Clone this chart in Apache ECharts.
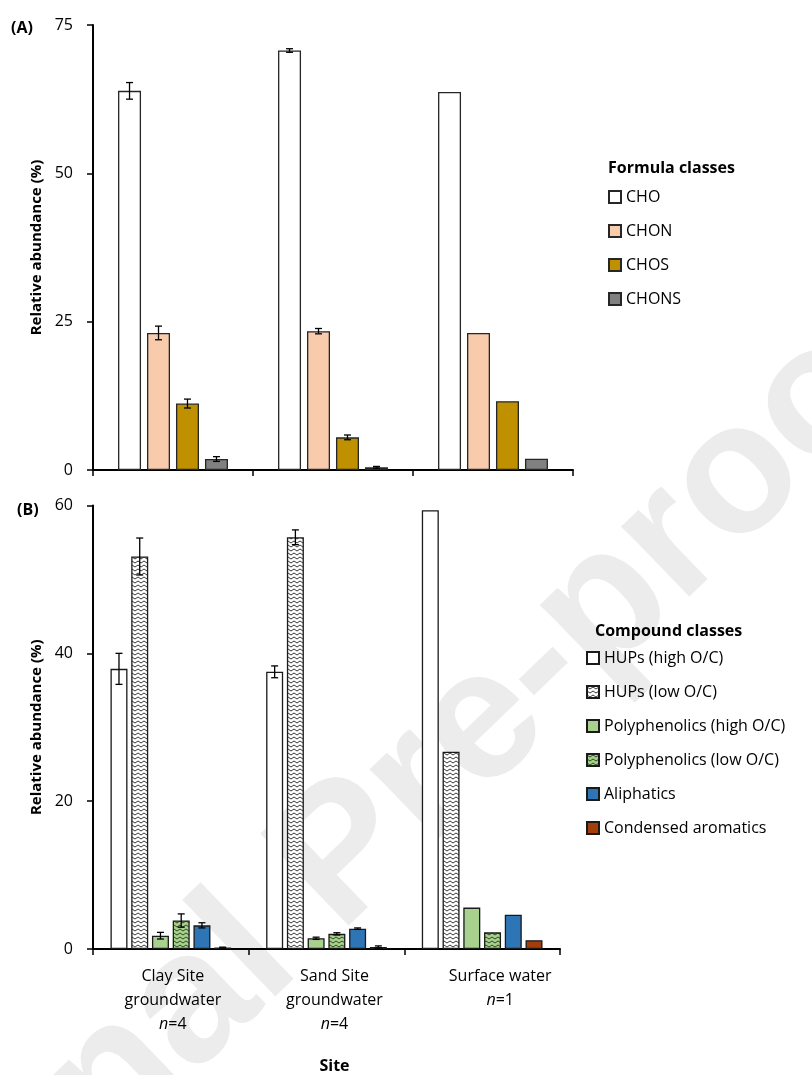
<!DOCTYPE html>
<html>
<head>
<meta charset="utf-8">
<script src="https://cdn.jsdelivr.net/npm/echarts@6/dist/echarts.min.js"></script>
<style>
  html, body { margin: 0; padding: 0; background: #fff; }
  #chart { width: 812px; height: 1075px; }
</style>
</head>
<body>
<div id="chart"></div>
<script>
// ---------- data ----------
const sites = ['Clay Site\ngroundwater', 'Sand Site\ngroundwater', 'Surface water'];
const sampleSizes = [4, 4, 1];

// Panel A: formula classes (mean relative abundance, %) and error (±)
const formulaNames = ['CHO', 'CHON', 'CHOS', 'CHONS'];
const valCHO   = [63.9, 70.7, 63.7];
const valCHON  = [23.1, 23.4, 23.1];
const valCHOS  = [11.2, 5.5, 11.6];
const valCHONS = [1.85, 0.45, 1.9];
const errCHO   = [1.4, 0.3, null];
const errCHON  = [1.15, 0.45, null];
const errCHOS  = [0.75, 0.4, null];
const errCHONS = [0.4, 0.15, null];

// Panel B: compound classes
const compoundNames = ['HUPs (high O/C)', 'HUPs (low O/C)', 'Polyphenolics (high O/C)',
                       'Polyphenolics (low O/C)', 'Aliphatics', 'Condensed aromatics'];
const valHUPsHigh  = [37.9, 37.5, 59.35];
const valHUPsLow   = [53.1, 55.7, 26.7];
const valPolyHigh  = [1.8, 1.45, 5.6];
const valPolyLow   = [3.85, 2.05, 2.25];
const valAliph     = [3.2, 2.75, 4.65];
const valCondensed = [0.2, 0.27, 1.2];
const errHUPsHigh  = [2.1, 0.8, null];
const errHUPsLow   = [2.5, 1.0, null];
const errPolyHigh  = [0.45, 0.15, null];
const errPolyLow   = [0.9, 0.15, null];
const errAliph     = [0.35, 0.1, null];
const errCondensed = [0.05, 0.15, null];

const ticksA = { min: 0, max: 75, interval: 25 };
const ticksB = { min: 0, max: 60, interval: 20 };

// ---------- styles ----------
function zigzag(bg, fg) {
  const c = document.createElement('canvas');
  c.width = 6; c.height = 4;
  const ctx = c.getContext('2d');
  ctx.fillStyle = bg; ctx.fillRect(0, 0, 6, 4);
  ctx.strokeStyle = fg; ctx.lineWidth = 1;
  ctx.beginPath();
  ctx.moveTo(0, 1); ctx.lineTo(3, 3); ctx.lineTo(6, 1);
  ctx.stroke();
  return { image: c, repeat: 'repeat' };
}

const FONT = '"Open Sans", "Noto Sans", sans-serif';
const formulaColors = ['#ffffff', '#F8CBAD', '#BF9000', '#808080'];
const compoundColors = ['#ffffff', zigzag('#ffffff', '#3a3a3a'), '#A9D18E',
                        zigzag('#A9D18E', '#2f4a22'), '#2E75B6', '#A33E0C'];
const valsA = [valCHO, valCHON, valCHOS, valCHONS];
const errsA = [errCHO, errCHON, errCHOS, errCHONS];
const valsB = [valHUPsHigh, valHUPsLow, valPolyHigh, valPolyLow, valAliph, valCondensed];
const errsB = [errHUPsHigh, errHUPsLow, errPolyHigh, errPolyLow, errAliph, errCondensed];

const barWA = 23, gapA = 0.26;
const barWB = 17, gapB = 0.22;

function errData(vals, errs) {
  const out = [];
  vals.forEach((arr, s) => arr.forEach((v, c) => {
    const e = errs[s][c];
    if (e != null) out.push([c, s, v, e]);
  }));
  return out;
}

function errRender(n, spacing) {
  return function (params, api) {
    const c = api.value(0), s = api.value(1), v = api.value(2), e = api.value(3);
    const p = api.coord([c, v]);
    const x = p[0] + (s - (n - 1) / 2) * spacing;
    const yT = api.coord([c, v + e])[1];
    const yB = api.coord([c, Math.max(v - e, 0)])[1];
    const st = { stroke: '#000', lineWidth: 1.3 };
    const w = 3.5;
    return {
      type: 'group',
      children: [
        { type: 'line', shape: { x1: x, y1: yT, x2: x, y2: yB }, style: st },
        { type: 'line', shape: { x1: x - w, y1: yT, x2: x + w, y2: yT }, style: st },
        { type: 'line', shape: { x1: x - w, y1: yB, x2: x + w, y2: yB }, style: st }
      ]
    };
  };
}

const axisLine = { show: true, lineStyle: { color: '#000', width: 2 } };
const axisTick = { show: true, length: 6, lineStyle: { color: '#000', width: 1.5 } };

const labelShift = [2, 8, 18];
const rich = {};
labelShift.forEach((s, i) => {
  rich['l' + i] = { fontFamily: FONT, fontSize: 16, color: '#000', lineHeight: 24, padding: [0, 0, 0, 2 * s] };
  rich['i' + i] = { fontFamily: FONT, fontSize: 16, color: '#000', lineHeight: 24, fontStyle: 'italic', padding: [0, 0, 0, 2 * s] };
  rich['e' + i] = { fontFamily: FONT, fontSize: 16, color: '#000', lineHeight: 24 };
});

const series = [];
formulaNames.forEach((name, s) => {
  series.push({
    name, type: 'bar', xAxisIndex: 0, yAxisIndex: 0,
    data: valsA[s], barWidth: barWA, barGap: (gapA * 100) + '%',
    itemStyle: { color: formulaColors[s], borderColor: '#262626', borderWidth: 1.3 },
    emphasis: { disabled: true }, z: 2
  });
});
series.push({
  type: 'custom', xAxisIndex: 0, yAxisIndex: 0,
  renderItem: errRender(4, barWA * (1 + gapA)),
  data: errData(valsA, errsA), encode: { x: 0, y: 2 }, z: 5, silent: true
});
compoundNames.forEach((name, s) => {
  series.push({
    name, type: 'bar', xAxisIndex: 1, yAxisIndex: 1,
    data: valsB[s], barWidth: barWB, barGap: (gapB * 100) + '%',
    itemStyle: { color: compoundColors[s], borderColor: '#1a1a1a', borderWidth: 1.3 },
    emphasis: { disabled: true }, z: 2
  });
});
series.push({
  type: 'custom', xAxisIndex: 1, yAxisIndex: 1,
  renderItem: errRender(6, barWB * (1 + gapB)),
  data: errData(valsB, errsB), encode: { x: 0, y: 2 }, z: 5, silent: true
});

const chart = echarts.init(document.getElementById('chart'), null, { renderer: 'canvas' });
chart.setOption({
  animation: false,
  backgroundColor: '#fff',
  textStyle: { fontFamily: FONT },
  graphic: [
    { type: 'text', x: 345, y: 858, rotation: 44 * Math.PI / 180, z: -10, silent: true,
      style: { text: 'Journal Pre-proof', font: 'bold 185px "Liberation Sans", Arial, sans-serif',
               fill: '#ececec', align: 'center', verticalAlign: 'middle' } },
    { type: 'text', x: 11, y: 28, style: { text: '(A)', font: 'bold 16px ' + FONT, fill: '#000', verticalAlign: 'middle' } },
    { type: 'text', x: 17, y: 510, style: { text: '(B)', font: 'bold 16px ' + FONT, fill: '#000', verticalAlign: 'middle' } },
    { type: 'text', x: 608, y: 168, style: { text: 'Formula classes', font: 'bold 16px ' + FONT, fill: '#000', verticalAlign: 'middle' } },
    { type: 'text', x: 595, y: 631, style: { text: 'Compound classes', font: 'bold 16px ' + FONT, fill: '#000', verticalAlign: 'middle' } }
  ],
  legend: [
    { data: formulaNames, orient: 'vertical', left: 608, top: 187, padding: 0, icon: 'rect',
      itemWidth: 12, itemHeight: 12, itemGap: 14, itemTextGap: 6, selectedMode: false,
      textStyle: { fontFamily: FONT, fontSize: 16, color: '#000', lineHeight: 20 } },
    { data: compoundNames, orient: 'vertical', left: 586, top: 648, padding: 0, icon: 'rect',
      itemWidth: 12, itemHeight: 12, itemGap: 14, itemTextGap: 3, selectedMode: false,
      textStyle: { fontFamily: FONT, fontSize: 16, color: '#000', lineHeight: 20 } }
  ],
  grid: [
    { left: 93, top: 25, width: 480, height: 445 },
    { left: 93, top: 505.5, width: 467, height: 445 }
  ],
  xAxis: [
    { type: 'category', gridIndex: 0, data: sites, axisLine, axisTick,
      axisLabel: { show: false } },
    { type: 'category', gridIndex: 1, data: sites, axisLine, axisTick,
      name: 'Site', nameLocation: 'middle', nameGap: 109,
      nameTextStyle: { fontFamily: FONT, fontSize: 16, fontWeight: 'bold', color: '#000', padding: [0, 0, 0, 16] },
      axisLabel: {
        margin: 15, interval: 0,
        formatter: (v, i) => {
          const lines = v.split('\n').map(t => '{l' + i + '|' + t + '}');
          lines.push('{i' + i + '|n}{e' + i + '|=' + sampleSizes[i] + '}');
          return lines.join('\n');
        },
        rich
      } }
  ],
  yAxis: [
    { type: 'value', gridIndex: 0, min: ticksA.min, max: ticksA.max, interval: ticksA.interval,
      axisLine, axisTick, splitLine: { show: false },
      axisLabel: { margin: 20, fontFamily: FONT, fontSize: 16, color: '#000' },
      name: 'Relative abundance (%)', nameLocation: 'middle', nameGap: 46,
      nameTextStyle: { fontFamily: FONT, fontSize: 15, fontWeight: 'bold', color: '#000' } },
    { type: 'value', gridIndex: 1, min: ticksB.min, max: ticksB.max, interval: ticksB.interval,
      axisLine, axisTick, splitLine: { show: false },
      axisLabel: { margin: 20, fontFamily: FONT, fontSize: 16, color: '#000' },
      name: 'Relative abundance (%)', nameLocation: 'middle', nameGap: 46,
      nameTextStyle: { fontFamily: FONT, fontSize: 15, fontWeight: 'bold', color: '#000' } }
  ],
  series
});
</script>
</body>
</html>
